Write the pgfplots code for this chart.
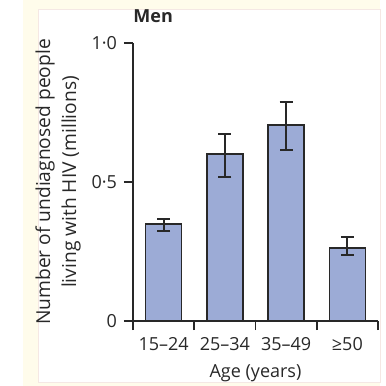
\documentclass[border=0pt]{standalone}
\usepackage{pgfplots}
\pgfplotsset{compat=1.18}
\usepackage{fontspec}
\setmainfont{Open Sans}
\definecolor{barfill}{RGB}{156,171,214}
\definecolor{cream}{RGB}{255,252,235}
\definecolor{dk}{RGB}{40,40,40}
\definecolor{edge}{RGB}{245,232,228}
\begin{document}
\begin{tikzpicture}
\useasboundingbox (0,0) rectangle (193pt,193pt);
\fill[white] (0,0) rectangle (193pt,193pt);
\fill[cream] (11.5pt,0) rectangle (190pt,193pt);
\filldraw[fill=white,draw=edge,line width=0.5pt] (19pt,1.5pt) rectangle (190pt,188pt);
\begin{axis}[
  at={(66.5pt,32.5pt)}, anchor=south west,
  scale only axis, width=122.5pt, height=139pt,
  xmin=-0.5, xmax=3.5, ymin=0, ymax=1,
  axis lines*=left,
  axis line style={dk, line width=0.8pt},
  tick align=outside,
  major tick length=4.5pt, minor tick length=4.5pt,
  every tick/.style={dk, line width=0.8pt},
  xtick={0,1,2,3},
  xticklabels={15–24,25–34,35–49,≥50},
  major x tick style={draw=none},
  minor xtick={-0.5,0.5,1.5,2.5,3.5},
  ytick={0,0.5,1},
  yticklabels={0,0·5,1·0},
  ticklabel style={font=\fontsize{9}{10}\selectfont, text=dk},
  ybar, bar shift=0pt,
  clip=false,
]
\addplot[ybar, bar width=18pt, fill=barfill, draw=dk, line width=0.7pt,
  error bars/.cd, y dir=both, y explicit,
  error bar style={line width=0.9pt, dk},
  error mark options={rotate=90, mark size=3.25pt, line width=0.9pt, dk}]
  coordinates {
  (0,0.349) += (0,0.018) -= (0,0.025)
  (1,0.600) += (0,0.073) -= (0,0.082)
  (2,0.705) += (0,0.083) -= (0,0.090)
  (3,0.263) += (0,0.039) -= (0,0.026)
  };
\node[anchor=west, font=\fontsize{9}{10}\selectfont\bfseries, text=dk, inner sep=0pt] at ([yshift=13.5pt]rel axis cs:0,1) {Men};
\node[rotate=90, align=center, font=\fontsize{9.6}{13}\selectfont, text=dk] at ([xshift=-37.5pt]rel axis cs:0,0.5) {Number of undiagnosed people\\living with HIV (millions)};
\node[font=\fontsize{9}{10}\selectfont, text=dk] at ([yshift=-26pt]rel axis cs:0.5,0) {Age (years)};
\end{axis}
\end{tikzpicture}
\end{document}
